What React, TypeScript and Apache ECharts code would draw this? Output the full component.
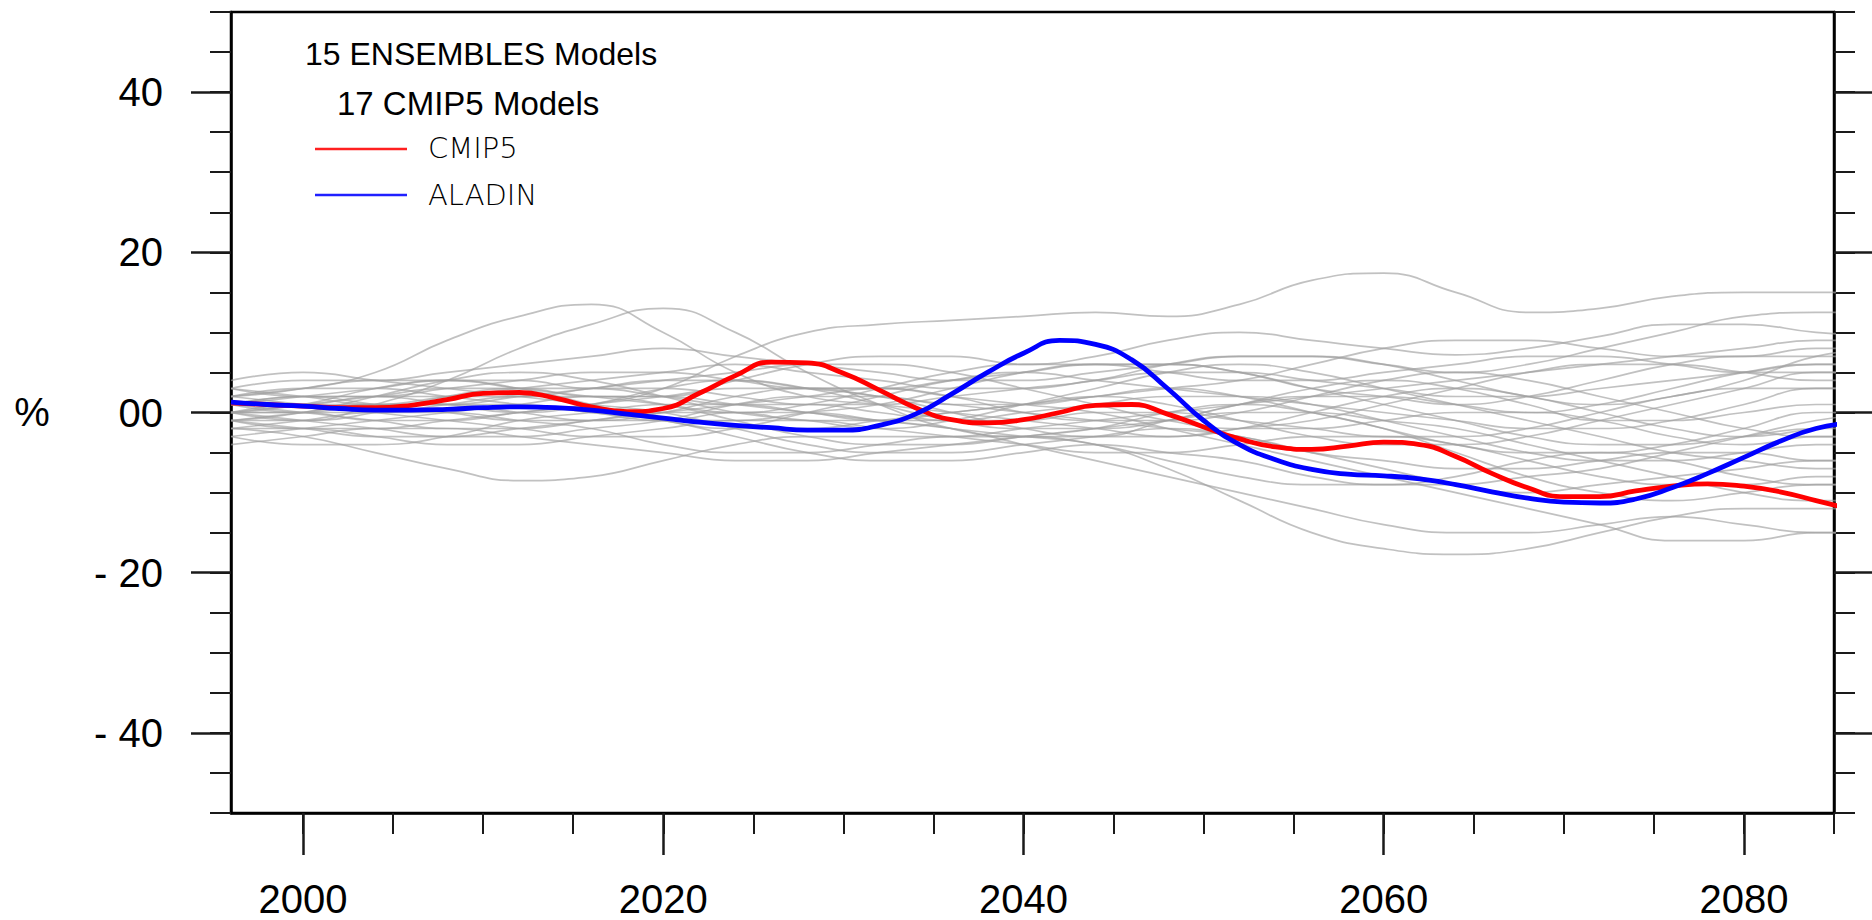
import React, { useEffect, useRef } from "react";
import * as echarts from "echarts";

// ---- axis ticks / labels ----
const xMajorTicks = [2000, 2020, 2040, 2060, 2080];
const xMinorTicks = [2000, 2005, 2010, 2015, 2020, 2025, 2030, 2035, 2040, 2045, 2050, 2055, 2060, 2065, 2070, 2075, 2080, 2085];
const yMajorTicks = [-40, -20, 0, 20, 40];
const yTickLabels = ["- 40", "- 20", "00", "20", "40"];
const yMinorTicks = [-50, -45, -40, -35, -30, -25, -20, -15, -10, -5, 0, 5, 10, 15, 20, 25, 30, 35, 40, 45, 50];

// ---- legend texts ----
const legendTitle1 = "15 ENSEMBLES Models";
const legendTitle2 = "17 CMIP5 Models";
const seriesNames = ["CMIP5", "ALADIN"];

// ---- main series (every 2 years) ----
const mainYears = [1996, 1998, 2000, 2002, 2004, 2006, 2008, 2010, 2012, 2014, 2016, 2018, 2020, 2022, 2024, 2026, 2028, 2030, 2032, 2034, 2036, 2038, 2040, 2042, 2044, 2046, 2048, 2050, 2052, 2054, 2056, 2058, 2060, 2062, 2064, 2066, 2068, 2070, 2072, 2074, 2076, 2078, 2080, 2082, 2084, 2086];
const cmip5 = [1.2, 1.0, 0.8, 0.6, 0.6, 0.9, 1.6, 2.4, 2.5, 1.8, 0.7, 0.1, 0.5, 2.4, 4.6, 6.3, 6.2, 4.9, 2.8, 0.6, -0.9, -1.3, -0.9, 0.0, 0.9, 1.0, -0.2, -1.8, -3.3, -4.3, -4.6, -4.2, -3.7, -4.0, -5.5, -7.6, -9.4, -10.5, -10.5, -9.8, -9.2, -8.9, -9.2, -9.9, -11.0, -12.1];
const aladin = [1.3, 1.0, 0.8, 0.5, 0.3, 0.3, 0.4, 0.6, 0.7, 0.6, 0.3, -0.2, -0.7, -1.2, -1.6, -1.9, -2.2, -2.2, -1.6, -0.2, 2.3, 5.0, 7.4, 9.0, 8.5, 6.6, 3.0, -1.0, -4.0, -5.9, -7.1, -7.7, -7.9, -8.3, -9.0, -9.9, -10.7, -11.2, -11.3, -10.8, -9.4, -7.6, -5.6, -3.6, -2.0, -1.3];

// ---- individual model members (every 4 years) ----
const memberYears = [1996, 2000, 2004, 2008, 2012, 2016, 2020, 2024, 2028, 2032, 2036, 2040, 2044, 2048, 2052, 2056, 2060, 2064, 2068, 2072, 2076, 2080, 2084, 2088];
const m01 = [2, 3, 5, 9, 12, 13.5, 10, 5, 2, 1, 0, -1, -2, -3, -2, 0, 2, 3, 2, 0, -2, -3, -2, -1];
const m02 = [0, -1, 1, 4, 8, 11, 13, 10, 5, 1, -2, -3, -3, -1, 1, 3, 4, 3, 1, -1, -1, 0, 1, 1];
const m03 = [1, 2, 2, 1, 0, 1, 3, 7, 10, 11, 11.5, 12, 12.5, 12, 13.5, 16.5, 17.4, 15, 12.5, 13, 14.5, 15, 15, 15];
const m04 = [0, 1, 2, 3, 3, 2, 2, 4, 6, 7, 7, 6, 7, 9, 10, 9, 8, 7.2, 8, 9.5, 11, 11, 10, 9.5];
const m05 = [3, 4, 4, 5, 6, 7, 8, 7, 6, 5, 4, 4, 5, 6, 7, 7, 6, 5, 6, 8, 10, 12, 12.5, 12.5];
const m06 = [-2, -3, -5, -7, -8.5, -8, -6, -4, -3, -3, -3, -2, -1, 0, 1, 2, 3, 4, 5, 6, 7, 8, 9, 9];
const m07 = [0, 0, 1, 1, 0, -1, -1, 0, 0, -1, -2, -3, -4, -7, -11, -15, -17, -17.7, -17, -15, -13, -12, -12, -12];
const m08 = [-3, -2, -1, 0, 1, 2, 2, 1, 0, -1, -2, -4, -6, -8, -10, -12, -14, -15, -15, -14, -13, -14, -15, -15];
const m09 = [1, 0, -1, -2, -2, -1, 0, 1, 2, 3, 2, 1, 0, -2, -4, -6, -8, -10, -12, -14, -16, -16, -15, -15];
const m10 = [4, 5, 4, 3, 2, 1, 0, -2, -4, -5, -5, -4, -3, -2, -3, -5, -7, -9, -10, -9, -8, -7, -6, -6];
const m11 = [-1, 0, 2, 4, 5, 4, 2, 0, -1, -2, -1, 1, 3, 5, 6, 5, 3, 1, -1, -3, -5, -6, -7, -7];
const m12 = [2, 3, 3, 2, 1, 0, -1, -3, -5, -6, -6, -5, -4, -5, -6, -8, -9, -9, -8, -7, -5, -3, -1, 0];
const m13 = [-4, -3, -2, -2, -3, -4, -5, -6, -6, -5, -4, -3, -2, -1, 0, 0, -1, -2, -4, -6, -8, -10, -11, -11];
const m14 = [0, 1, 1, 2, 3, 4, 5, 6, 5, 4, 3, 3, 4, 5, 5, 4, 3, 2, 2, 3, 4, 5, 6, 6];
const m15 = [1, 2, 3, 4, 4, 3, 3, 2, 1, 1, 2, 3, 4, 6, 7, 7, 6, 4, 2, 1, 2, 4, 7, 8];
const m16 = [-1, -2, -2, -1, 0, 1, 3, 4, 3, 2, 0, -2, -3, -3, -2, -1, 1, 3, 5, 6, 6, 5, 4, 4];
const m17 = [2, 1, 0, -1, -2, -3, -3, -2, 0, 2, 4, 5, 4, 3, 2, 1, 0, -1, -2, -2, -1, 1, 3, 3];
const m18 = [-2, -1, 0, 0, -1, -2, -4, -5, -5, -4, -3, -3, -4, -6, -8, -9, -9, -8, -6, -5, -6, -8, -9, -9];
const m19 = [3, 2, 1, 1, 2, 3, 4, 5, 6, 6, 5, 3, 1, -1, -2, -2, -1, 0, 0, -1, -3, -4, -3, -3];
const m20 = [0, -1, -2, -3, -3, -2, -1, 1, 2, 2, 1, 1, 2, 3, 4, 6, 8, 9, 9, 8, 7, 7, 8, 8];
const m21 = [-3, -4, -4, -3, -1, 0, 1, 1, 0, -1, -1, 0, 1, 2, 2, 1, -1, -3, -5, -6, -6, -5, -4, -4];
const m22 = [1, 2, 1, 0, -1, -1, 0, 2, 3, 3, 2, 0, -1, -1, 0, 2, 4, 5, 4, 2, 0, -2, -3, -3];
const m23 = [-1, 0, 1, 1, 1, 0, -1, -1, 0, 1, 3, 5, 6, 6, 5, 3, 1, -1, -3, -4, -4, -3, -2, -2];
const m24 = [2, 3, 4, 4, 3, 1, -1, -2, -2, -1, 0, 1, 2, 1, -1, -3, -4, -4, -3, -1, 1, 3, 5, 5];
const m25 = [-2, -2, -3, -4, -4, -3, -2, -1, -1, -2, -3, -4, -5, -5, -4, -3, -3, -4, -6, -8, -9, -9, -8, -8];
const m26 = [0, 1, 3, 4, 3, 2, 1, 0, 1, 3, 5, 6, 6, 5, 4, 4, 5, 6, 7, 7, 6, 5, 5, 5];
const m27 = [1, 0, 0, 1, 2, 2, 1, -1, -3, -4, -4, -3, -2, 0, 1, 0, -2, -4, -5, -5, -4, -2, 0, 0];
const m28 = [-1, -1, 0, 2, 3, 3, 2, 1, 1, 0, -1, -1, 0, 0, -1, -2, -3, -3, -2, 0, 2, 3, 3, 3];
const m29 = [0, 0, -1, -1, 0, 1, 2, 3, 3, 2, 1, 0, -1, -2, -3, -5, -6, -7, -7, -6, -5, -5, -6, -6];
const m30 = [3, 2, 2, 3, 4, 5, 5, 4, 3, 3, 4, 5, 6, 6, 5, 3, 2, 1, 2, 4, 6, 7, 7, 7];
const m31 = [-1, -2, -3, -3, -2, -1, 0, 0, -1, -1, 0, 1, 2, 3, 2, 0, -2, -5, -8, -10, -11, -10, -9, -9];
const m32 = [1, 1, 2, 2, 2, 3, 4, 4, 3, 1, -1, -2, -2, -1, 1, 2, 2, 1, 0, 1, 3, 5, 6, 6];
const members = [m01, m02, m03, m04, m05, m06, m07, m08, m09, m10, m11, m12, m13, m14, m15, m16, m17, m18, m19, m20, m21, m22, m23, m24, m25, m26, m27, m28, m29, m30, m31, m32];

const X_MIN = 1996;
const X_MAX = 2085;
const Y_MIN = -50;
const Y_MAX = 50;

export default function App() {
  const ref = useRef<HTMLDivElement>(null);

  useEffect(() => {
    if (!ref.current) return;
    const chart = echarts.init(ref.current, null, { renderer: "svg" });
    const font = "'Liberation Sans', Arial, Helvetica, sans-serif";
    const thinFont = "'DejaVu Sans', sans-serif";
    const tickColor = "#1a1a1a";

    const baseX = {
      type: "value" as const,
      min: X_MIN,
      max: X_MAX,
      position: "bottom" as const,
      splitLine: { show: false },
    };
    const baseY = {
      type: "value" as const,
      min: Y_MIN,
      max: Y_MAX,
      splitLine: { show: false },
    };

    const memberSeries = members.map((vals, i) => ({
      name: "m" + (i + 1),
      type: "line" as const,
      xAxisIndex: 0,
      yAxisIndex: 0,
      data: memberYears.map((yr, j) => [yr, vals[j]]),
      smooth: 0.5,
      showSymbol: false,
      silent: true,
      lineStyle: { color: "#a0a0a0", width: 1.7, opacity: 0.65 },
      z: 2,
    }));

    const option = {
      animation: false,
      backgroundColor: "#ffffff",
      grid: {
        left: 231,
        right: 38,
        top: 12,
        bottom: 107,
        show: true,
        borderColor: "#000",
        borderWidth: 2.5,
        backgroundColor: "transparent",
        containLabel: false,
        outerBoundsMode: "none",
      },
      xAxis: [
        {
          ...baseX,
          axisLine: { show: true, onZero: false, lineStyle: { color: "#000", width: 2.5 } },
          axisTick: {
            show: true,
            customValues: xMajorTicks,
            length: 42,
            inside: false,
            lineStyle: { color: tickColor, width: 2.5 },
          },
          axisLabel: {
            show: true,
            customValues: xMajorTicks,
            margin: 66,
            fontSize: 40,
            color: "#000",
            fontFamily: font,
            formatter: (v: number) => String(v),
          },
        },
        {
          ...baseX,
          axisLine: { show: false, onZero: false },
          axisTick: {
            show: true,
            customValues: xMinorTicks,
            length: 21,
            inside: false,
            lineStyle: { color: tickColor, width: 2 },
          },
          axisLabel: { show: false },
        },
      ],
      yAxis: [
        {
          ...baseY,
          position: "left",
          axisLine: { show: true, onZero: false, lineStyle: { color: "#000", width: 2.5 } },
          axisTick: {
            show: true,
            customValues: yMajorTicks,
            length: 40,
            lineStyle: { color: tickColor, width: 2.5 },
          },
          axisLabel: {
            show: true,
            customValues: yMajorTicks,
            margin: 68,
            fontSize: 40,
            color: "#000",
            fontFamily: font,
            formatter: (v: number) => {
              const idx = yMajorTicks.indexOf(v);
              return idx >= 0 ? yTickLabels[idx] : "";
            },
          },
        },
        {
          ...baseY,
          position: "left",
          axisLine: { show: false, onZero: false },
          axisTick: {
            show: true,
            customValues: yMinorTicks,
            length: 21,
            lineStyle: { color: tickColor, width: 2 },
          },
          axisLabel: { show: false },
        },
        {
          ...baseY,
          position: "right",
          axisLine: { show: true, onZero: false, lineStyle: { color: "#000", width: 2.5 } },
          axisTick: {
            show: true,
            customValues: yMajorTicks,
            length: 40,
            lineStyle: { color: tickColor, width: 2.5 },
          },
          axisLabel: { show: false },
        },
        {
          ...baseY,
          position: "right",
          axisLine: { show: false, onZero: false },
          axisTick: {
            show: true,
            customValues: yMinorTicks,
            length: 21,
            lineStyle: { color: tickColor, width: 2 },
          },
          axisLabel: { show: false },
        },
      ],
      series: [
        ...memberSeries,
        {
          name: seriesNames[0],
          type: "line",
          xAxisIndex: 0,
          yAxisIndex: 0,
          data: mainYears.map((yr, j) => [yr, cmip5[j]]),
          smooth: 0.5,
          showSymbol: false,
          lineStyle: { color: "#ff0000", width: 4.8 },
          z: 5,
        },
        {
          name: seriesNames[1],
          type: "line",
          xAxisIndex: 0,
          yAxisIndex: 0,
          data: mainYears.map((yr, j) => [yr, aladin[j]]),
          smooth: 0.5,
          showSymbol: false,
          lineStyle: { color: "#0000ff", width: 4.8 },
          z: 6,
        },
      ],
      graphic: [
        {
          type: "text",
          x: 32,
          y: 412,
          style: {
            text: "%",
            fontSize: 40,
            fontFamily: font,
            fill: "#000",
            textAlign: "center",
            textVerticalAlign: "middle",
          },
        },
        {
          type: "text",
          x: 305,
          y: 54,
          style: {
            text: legendTitle1,
            fontSize: 32,
            fontFamily: font,
            fill: "#000",
            textAlign: "left",
            textVerticalAlign: "middle",
          },
        },
        {
          type: "text",
          x: 337,
          y: 103,
          style: {
            text: legendTitle2,
            fontSize: 33,
            fontFamily: font,
            fill: "#000",
            textAlign: "left",
            textVerticalAlign: "middle",
          },
        },
        {
          type: "line",
          shape: { x1: 315, y1: 149, x2: 407, y2: 149 },
          style: { stroke: "#ff2020", lineWidth: 2.5 },
        },
        {
          type: "line",
          shape: { x1: 315, y1: 195, x2: 407, y2: 195 },
          style: { stroke: "#2020ff", lineWidth: 2.5 },
        },
        {
          type: "text",
          x: 428,
          y: 148,
          style: {
            text: seriesNames[0],
            fontSize: 29,
            fontFamily: thinFont,
            fontWeight: 200,
            fill: "#000",
            textAlign: "left",
            textVerticalAlign: "middle",
          },
        },
        {
          type: "text",
          x: 428,
          y: 195,
          style: {
            text: seriesNames[1],
            fontSize: 29,
            fontFamily: thinFont,
            fontWeight: 200,
            fill: "#000",
            textAlign: "left",
            textVerticalAlign: "middle",
          },
        },
      ],
    };

    chart.setOption(option as any);
    return () => chart.dispose();
  }, []);

  return (
    <div
      ref={ref}
      style={{ position: "fixed", left: 0, top: 0, width: 1872, height: 920, background: "#fff" }}
    />
  );
}
